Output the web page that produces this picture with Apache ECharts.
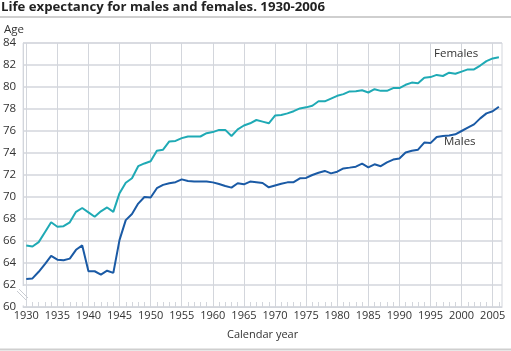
<!DOCTYPE html>
<html>
<head>
<meta charset="utf-8">
<script src="https://cdn.jsdelivr.net/npm/echarts@6/dist/echarts.min.js"></script>
<style>
html,body{margin:0;padding:0;background:#fff;}
#c{width:511px;height:351px;}
</style>
</head>
<body>
<div id="c"></div>
<script>
var years = [];
for (var y = 1930; y <= 2006; y++) years.push(String(y));

var females = [
65.6,65.5,65.9,66.8,67.7,67.3,67.35,67.7,68.65,69.0,
68.6,68.2,68.7,69.05,68.65,70.35,71.3,71.7,72.8,73.05,
73.25,74.2,74.3,75.05,75.1,75.35,75.5,75.5,75.5,75.8,
75.9,76.1,76.1,75.55,76.15,76.5,76.7,77.0,76.85,76.7,
77.4,77.45,77.6,77.8,78.05,78.15,78.3,78.7,78.7,78.95,
79.2,79.35,79.6,79.62,79.7,79.5,79.8,79.65,79.65,79.9,
79.9,80.2,80.4,80.35,80.85,80.9,81.1,81.0,81.3,81.2,
81.4,81.6,81.6,81.95,82.35,82.6,82.7
];
var males = [
62.55,62.6,63.2,63.9,64.65,64.3,64.25,64.4,65.2,65.6,
63.25,63.25,62.95,63.3,63.1,66.1,67.9,68.45,69.4,70.0,
69.95,70.8,71.1,71.25,71.35,71.6,71.45,71.4,71.4,71.4,
71.33,71.18,71.0,70.85,71.25,71.15,71.4,71.35,71.27,70.88,
71.05,71.2,71.33,71.35,71.7,71.73,72.0,72.2,72.37,72.15,
72.3,72.6,72.67,72.76,73.03,72.7,72.97,72.8,73.15,73.4,
73.5,74.05,74.2,74.3,74.95,74.9,75.45,75.55,75.6,75.7,
76.0,76.3,76.6,77.15,77.6,77.8,78.2
];
var yTicks = {min: 60, max: 84, interval: 2};

var FONT = '"Open Sans", sans-serif';
var grid = '#d3d6dc';

var chart = echarts.init(document.getElementById('c'), null, {renderer: 'canvas'});
chart.setOption({
  animation: false,
  backgroundColor: '#fff',
  textStyle: {fontFamily: FONT},
  grid: {left: 23, right: 9, top: 43, bottom: 44, show: true, borderColor: grid, borderWidth: 1, containLabel: false},
  xAxis: {
    type: 'category',
    data: years,
    boundaryGap: true,
    name: 'Calendar year',
    nameLocation: 'middle',
    nameGap: 22,
    nameTextStyle: {color: '#333', fontSize: 11, fontFamily: FONT},
    axisLine: {show: true, lineStyle: {color: grid, width: 1}},
    axisTick: {show: true, interval: 0, alignWithLabel: true, inside: true, length: 5, lineStyle: {color: grid}},
    axisLabel: {interval: 4, color: '#333', fontSize: 11, margin: 3, fontFamily: FONT},
    splitLine: {show: true, interval: 4, alignWithLabel: true, lineStyle: {color: grid, width: 1}}
  },
  yAxis: {
    type: 'value',
    min: yTicks.min, max: yTicks.max, interval: yTicks.interval,
    axisLine: {show: true, lineStyle: {color: grid}},
    axisTick: {show: false},
    axisLabel: {color: '#333', fontSize: 11.5, margin: 7, fontFamily: FONT},
    splitLine: {show: true, lineStyle: {color: grid, width: 1.5}}
  },
  series: [
    {name: 'Females', type: 'line', data: females, symbol: 'none', lineStyle: {color: '#1faab5', width: 2}, itemStyle: {color: '#1faab5'}},
    {name: 'Males', type: 'line', data: males, symbol: 'none', lineStyle: {color: '#1a5aa5', width: 2}, itemStyle: {color: '#1a5aa5'}}
  ],
  graphic: [
    {type: 'text', left: 1, top: 1, z: 100, style: {text: 'Life expectancy for males and females. 1930-2006', font: 'bold 13.2px ' + FONT, fill: '#222'}},
    {type: 'rect', z: 100, shape: {x: 0, y: 16, width: 511, height: 2}, style: {fill: '#cfcfcf'}},
    {type: 'rect', z: 100, shape: {x: 0, y: 348.5, width: 511, height: 2}, style: {fill: '#cfcfcf'}},
    {type: 'text', left: 4, top: 24, z: 100, style: {text: 'Age', font: '11.5px ' + FONT, fill: '#333'}},
    {type: 'text', left: 434, top: 48, z: 100, style: {text: 'Females', font: '11.5px ' + FONT, fill: '#333'}},
    {type: 'text', left: 444, top: 136, z: 100, style: {text: 'Males', font: '11.5px ' + FONT, fill: '#333'}},
    {type: 'rect', z: 100, shape: {x: 21, y: 286, width: 4, height: 19.5}, style: {fill: '#fff'}},
    {type: 'line', z: 101, shape: {x1: 17, y1: 291, x2: 26, y2: 300}, style: {stroke: '#c8cbd1', lineWidth: 1}},
    {type: 'line', z: 101, shape: {x1: 19, y1: 289, x2: 28, y2: 298}, style: {stroke: '#c8cbd1', lineWidth: 1}}
  ]
});
</script>
</body>
</html>
